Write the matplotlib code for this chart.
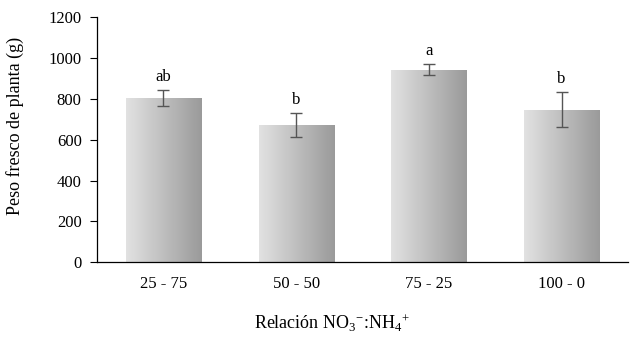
import numpy as np
import matplotlib
matplotlib.use("Agg")
import matplotlib.pyplot as plt

categories = ["25 - 75", "50 - 50", "75 - 25", "100 - 0"]
peso       = [803, 671, 942, 746]
error      = [38, 59, 27, 86]
letras     = ["ab", "b", "a", "b"]

plt.rcParams["font.family"] = ["Liberation Serif", "DejaVu Serif"]
plt.rcParams["mathtext.fontset"] = "custom"
plt.rcParams["mathtext.rm"] = "Liberation Serif"
plt.rcParams["mathtext.it"] = "Liberation Serif"

fig = plt.figure(figsize=(6.38, 3.37), dpi=100)
ax = fig.add_axes([97 / 638, 1 - 262.3 / 337, 531 / 638, 245.3 / 337])

x = np.arange(len(categories))
width = 0.565
bars = ax.bar(x, peso, width=width, color="none", edgecolor="none", zorder=2)

# horizontal grey gradient inside each bar
grad = np.linspace(0, 1, 256).reshape(1, -1)
cmap = matplotlib.colors.LinearSegmentedColormap.from_list("g", ["#e2e2e2", "#9a9a9a"])
for b in bars:
    x0, w, h = b.get_x(), b.get_width(), b.get_height()
    im = ax.imshow(grad, cmap=cmap, aspect="auto", extent=[x0, x0 + w, 0, h],
                   zorder=2, interpolation="bilinear")
    im.set_clip_path(b)

ax.errorbar(x, peso, yerr=error, fmt="none", ecolor="#555555", elinewidth=1,
            capsize=4, capthick=1, zorder=3)

for xi, v, e, l in zip(x, peso, error, letras):
    ax.text(xi, v + e + 25, l, ha="center", va="bottom", fontsize=12)

ax.set_xlim(-0.5, 3.5)
ax.set_ylim(0, 1200)
ax.set_yticks(range(0, 1201, 200))
ax.set_xticks(x)
ax.set_xticklabels(categories, fontsize=12)
ax.tick_params(axis="x", length=0, pad=10)
ax.tick_params(axis="y", direction="out", length=5, pad=6, labelsize=12, width=0.8)
ax.spines["top"].set_visible(False)
ax.spines["right"].set_visible(False)
for s in ["left", "bottom"]:
    ax.spines[s].set_linewidth(0.9)
    ax.spines[s].set_color("black")

ax.set_ylabel("Peso fresco de planta (g)", fontsize=13)
ax.set_xlabel("Relación NO$_3$$^{-}$:NH$_4$$^{+}$", fontsize=13)
ax.yaxis.set_label_coords(-0.137, 0.556)
ax.xaxis.set_label_coords(0.443, -0.205)

plt.savefig("out.png", dpi=100)
